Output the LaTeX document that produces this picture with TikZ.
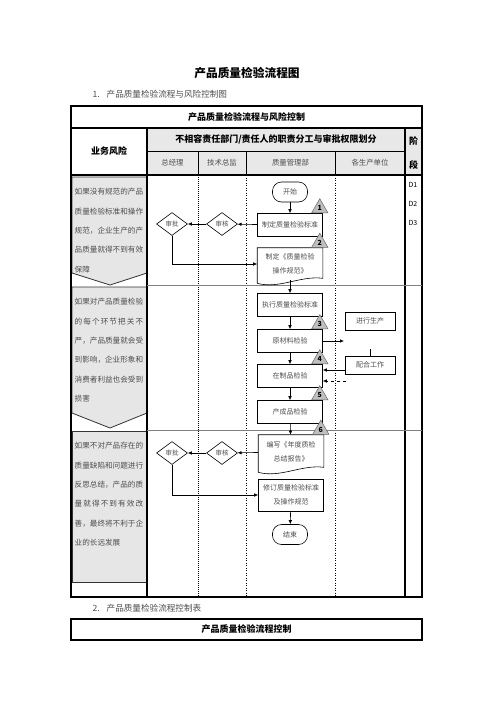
\documentclass[tikz,border=0pt]{standalone}
\usepackage{fontspec}
\setmainfont{Noto Sans CJK SC}
\usetikzlibrary{arrows.meta,shapes.geometric}
\definecolor{hdrgray}{HTML}{E8E8E8}
\definecolor{riskgray}{HTML}{E6E6E6}
\definecolor{txtgray}{HTML}{4D4D4D}
\definecolor{trigray}{HTML}{BFBFBF}

\begin{document}
\begin{tikzpicture}[x=1pt,y=-1pt,
  box/.style={draw,fill=white,line width=0.6pt,minimum width=65pt,minimum height=23pt,inner sep=1pt,font=\fontsize{7}{13.5}\selectfont,text=txtgray,align=center},
  docbox/.style={box,draw=none,fill=none},
  term/.style={box,rounded corners=9pt,minimum width=35pt,minimum height=20pt},
  unit/.style={box,minimum width=50pt,minimum height=18pt},
  gate/.style={diamond,draw,line width=0.6pt,minimum width=31pt,minimum height=23pt,inner sep=0pt,font=\fontsize{6.5}{8}\selectfont,text=txtgray},
  tri/.style={regular polygon,regular polygon sides=3,minimum size=19pt,inner sep=0pt,fill=trigray,draw=black!60,line width=0.5pt,anchor=side 2,font=\bfseries\fontsize{7}{8}\selectfont},
  risk/.style={anchor=north west,inner sep=0pt,text width=68.5pt,font=\fontsize{7.6}{19.4}\selectfont,text=txtgray},
  arr/.style={-{Latex[length=4pt,width=3.5pt]},line width=0.6pt},
  head/.style={font=\bfseries\fontsize{9}{11}\selectfont},
  sub/.style={font=\fontsize{7.4}{9}\selectfont,text=txtgray},
  phase/.style={font=\fontsize{7}{9}\selectfont}]

\useasboundingbox (0,0) rectangle (496,702);

\node (title) at (247,73) {\bfseries\fontsize{11.7}{14}\selectfont 产品质量检验流程图};
\node[anchor=west,text=txtgray] (sec1) at (89,94) {\fontsize{8.6}{10}\selectfont 1.\hspace{7pt}产品质量检验流程与风险控制图};

\fill[hdrgray] (147,128) rectangle (422,175);

\filldraw[fill=riskgray,draw=black!80,line width=0.8pt] (72,177) -- (147,177) -- (147,273) -- (110,285) -- (72,273) -- cycle;
\filldraw[fill=riskgray,draw=black!80,line width=0.8pt] (72,287) -- (147,287) -- (147,413) -- (110,428) -- (72,413) -- cycle;
\filldraw[fill=riskgray,draw=black!80,line width=1pt] (72,431) rectangle (147,582);

\draw[line width=1.2pt] (71,106) rectangle (422,597);
\draw[line width=1.2pt] (71,128) -- (422,128);
\draw[line width=1.2pt] (71,175) -- (422,175);
\draw[line width=1.2pt] (147,128) -- (147,597);
\draw[line width=1.2pt] (405,128) -- (405,597);
\draw[line width=0.5pt] (147,151) -- (405,151);
\foreach \x in {198,246,335} \draw[line width=0.5pt] (\x,151) -- (\x,175);
\draw[line width=1pt,densely dotted] (198,175) -- (198,597);
\foreach \x in {246,335} \draw[line width=0.5pt,dotted] (\x,175) -- (\x,597);
\foreach \y in {285,430} \draw[line width=0.5pt,black!50] (147,\y) -- (422,\y);

\node[head] (tabtitle) at (246.5,117) {产品质量检验流程与风险控制};
\node[head] (riskhead) at (109,151.5) {业务风险};
\node[head] (duty) at (276,139.5) {不相容责任部门/责任人的职责分工与审批权限划分};
\node[sub] (gm) at (172.5,163) {总经理};
\node[sub] (cto) at (222,163) {技术总监};
\node[sub] (qa) at (290.5,163) {质量管理部};
\node[sub] (units) at (370,163) {各生产单位};
\node[head] (stagea) at (413.5,141.5) {阶};
\node[head] (stageb) at (413.5,165) {段};

\node[phase] (d1) at (413,185) {D1};
\node[phase] (d2) at (413,203.5) {D2};
\node[phase] (d3) at (413,222.5) {D3};

\node[risk] (riska) at (74.5,188) {如果没有规范的产品\\质量检验标准和操作\\规范，企业生产的产\\品质量就得不到有效\\保障};
\node[risk] (riskb) at (74.5,298) {如果对产品质量检验\\的\hfill 每\hfill 个\hfill 环\hfill 节\hfill 把\hfill 关\hfill 不\\严，产品质量就会受\\到影响，企业形象和\\消费者利益也会受到\\损害};
\node[risk] (riskc) at (74.5,442) {如果不对产品存在的\\质量缺陷和问题进行\\反思总结，产品的质\\量\hfill 就\hfill 得\hfill 不\hfill 到\hfill 有\hfill 效\hfill 改\\善，最终将不利于企\\业的长远发展};

\node[term] (start) at (290,192) {开始};
\node[box] (std) at (290,225) {制定质量检验标准};
\node[docbox,minimum height=32pt] (doc2) at (290,264) {制定《质量检验\\操作规范》};
\node[box] (exec) at (290,305) {执行质量检验标准};
\node[box] (raw) at (290,341) {原材料检验};
\node[box] (wip) at (290,376) {在制品检验};
\node[box] (fin) at (290,412) {产成品检验};
\node[docbox,minimum height=34pt] (doc6) at (291,452) {编写《年度质检\\总结报告》};
\node[box,minimum height=32pt] (rev) at (291,495) {修订质量检验标准\\及操作规范};
\node[term] (end) at (290,534.5) {结束};

\node[unit] (prod) at (370,321) {进行生产};
\node[unit] (coop) at (370,365) {配合工作};

\node[gate] (appra) at (172,224) {审批};
\node[gate] (chka) at (222,224) {审核};
\node[gate] (apprc) at (172,453) {审批};
\node[gate] (chkc) at (222,453) {审核};

\foreach \n in {doc2,doc6}
  \draw[line width=0.6pt] (\n.north west) -- ([yshift=-3pt]\n.south west) .. controls ([xshift=22pt,yshift=-9pt]\n.south west) and ([xshift=-22pt,yshift=5pt]\n.south east) .. ([yshift=2pt]\n.south east) -- (\n.north east) -- cycle;

\node[tri] (ta) at ([xshift=-3pt]std.north east) {1};
\node[tri] (tb) at ([xshift=-3pt]doc2.north east) {2};
\node[tri] (tc) at ([xshift=-3pt]raw.north east) {3};
\node[tri] (td) at ([xshift=-3pt]wip.north east) {4};
\node[tri] (te) at ([xshift=-3pt]fin.north east) {5};
\node[tri] (tf) at ([xshift=-3pt]doc6.north east) {6};

\coordinate (rawout) at (344,341);
\coordinate (dashin) at (346,381);
\coordinate (stub) at (370,349);

\draw[arr] (start) -- (std);
\draw[arr] (std) -- (chka);
\draw[arr] (chka) -- (appra);
\draw[arr] (appra.south) |- (doc2.west);
\draw[arr] (doc2.south) -- (exec);
\draw[arr] (exec) -- (raw);
\draw[arr] (raw) -- (wip);
\draw[arr] (wip) -- (fin);
\draw[arr] (fin) -- (doc6);
\draw[arr] (doc6) -- (chkc);
\draw[arr] (chkc) -- (apprc);
\draw[arr] (apprc.south) |- (rev.west);
\draw[arr] (rev) -- (end);
\draw[arr] (raw.east) -- (rawout);
\draw[arr] ([yshift=-5pt]coop.west) -- ([yshift=6pt]wip.east);
\draw[arr,dashed] (dashin) -- (wip.east |- dashin);
\draw[line width=0.6pt] (coop.north) -- (stub);

\node[anchor=west,text=txtgray] (sec2) at (89,608) {\fontsize{8.6}{10}\selectfont 2.\hspace{7pt}产品质量检验流程控制表};
\draw[line width=1.2pt] (71,619) rectangle (422,640);
\node[head] (ctrl) at (246.5,629.5) {产品质量检验流程控制};

\end{tikzpicture}
\end{document}
